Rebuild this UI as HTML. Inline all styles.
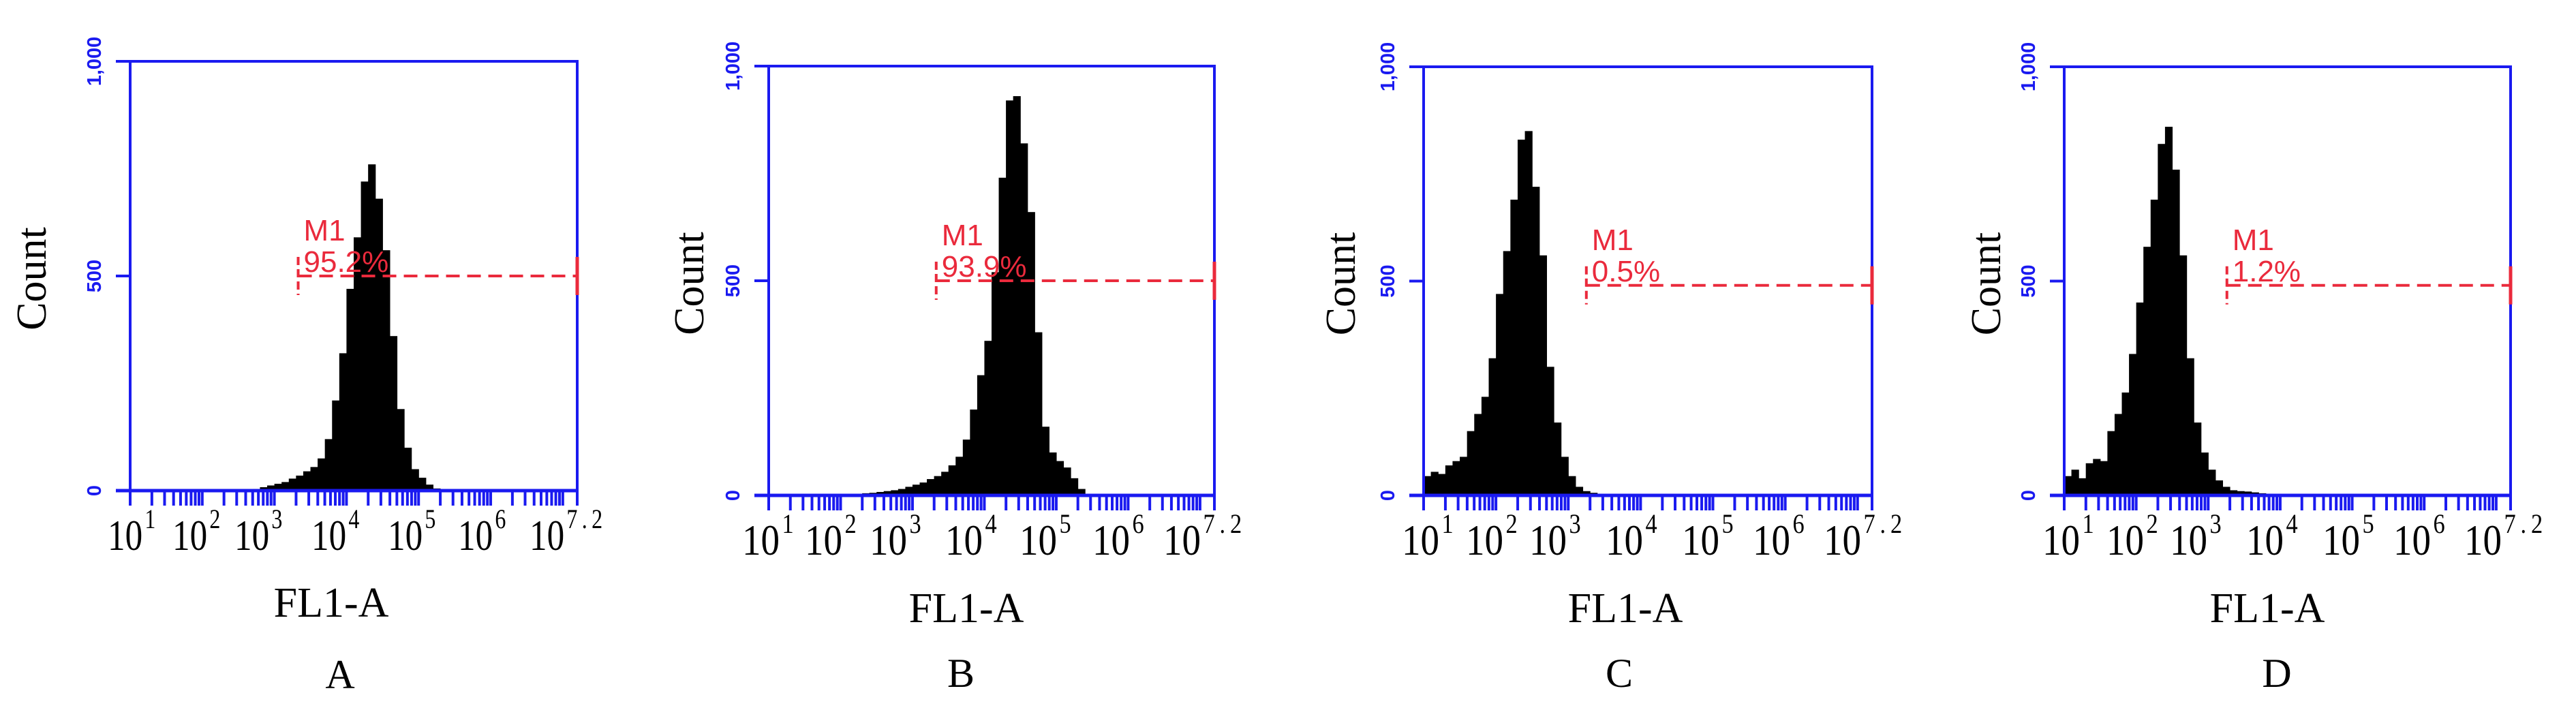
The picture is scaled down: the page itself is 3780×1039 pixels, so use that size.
<!DOCTYPE html>
<html><head><meta charset="utf-8">
<style>
html,body{margin:0;padding:0;background:#fff;}
svg{display:block;}
</style></head>
<body>
<svg id="fig" xmlns="http://www.w3.org/2000/svg" width="3780" height="1039" viewBox="0 0 3780 1039">
<rect x="0" y="0" width="3780" height="1039" fill="#fff"/>
</svg>
<script>
// ---- data ----
const panelIds = ["A","B","C","D"];
const binStartA = 2.7;
const countsA = [4,8,12,16,20,28,35,45,55,75,120,210,320,470,590,720,760,680,560,360,190,100,50,30,14,5];
const binStartB = 2.3;
const countsB = [5,6,8,10,12,15,20,25,30,38,45,55,70,90,130,200,280,360,520,740,920,930,820,660,380,160,100,80,65,40,15,3];
const binStartC = 1.0;
const countsC = [45,55,50,70,80,90,150,190,230,320,470,570,690,830,850,720,560,300,170,90,45,20,10,6,3,2];
const binStartD = 1.0;
const countsD = [45,60,40,75,85,80,150,190,240,330,450,580,690,820,860,760,560,320,170,100,60,35,20,12,10,9,7,5,4,1];
const markerLabels = ["95.2%","93.9%","0.5%","1.2%"];
const markerStart = [3.33,3.33,3.25,3.26];    // gate start (log10)
const markerLevel = [500,500,490,490];        // gate line height (count)
const yTickValues = [0,500,1000];
const yTickLabels = ["0","500","1,000"];
const xTickExps = ["1","2","3","4","5","6","7.2"];
const binWidth = 0.1;
const xMin = 1, xMax = 7.2, yMax = 1000;

// ---- layout ----
const layout = [
 {L:191,R:847,T:90,B:720, countX:47, labX:[158,253,344,457,569,672,777], labY:807, labSX:0.8, flX:486, flY:905, idX:499, idY:1010},
 {L:1128,R:1782,T:97,B:727, countX:1012, labX:[1089,1181,1276,1387,1496,1603,1707], labY:814, labSX:0.86, flX:1418, flY:913, idX:1410, idY:1008},
 {L:2089,R:2747,T:98,B:727, countX:1968, labX:[2057,2151,2244,2356,2468,2572,2676], labY:814, labSX:0.86, flX:2385, flY:913, idX:2376, idY:1008},
 {L:3029,R:3684,T:98,B:727, countX:2915, labX:[2997,3091,3184,3296,3408,3512,3616], labY:814, labSX:0.86, flX:3327, flY:913, idX:3341, idY:1008}
];
const allCounts = [countsA,countsB,countsC,countsD];
const allStarts = [binStartA,binStartB,binStartC,binStartD];

const NS = "http://www.w3.org/2000/svg";
const svg = document.getElementById("fig");
const BLUE = "#1a1af0", RED = "#ea2a3c";
function mk(tag, attrs, parent){
  const e = document.createElementNS(NS, tag);
  for (const k in attrs) e.setAttribute(k, attrs[k]);
  (parent||svg).appendChild(e);
  return e;
}

panelIds.forEach((pid, i) => {
  const P = layout[i];
  const xs = v => P.L + (v - xMin) / (xMax - xMin) * (P.R - P.L);
  const ys = c => P.B - c / yMax * (P.B - P.T);
  const g = mk("g", {});
  
  

  // histogram bars
  const counts = allCounts[i], start = allStarts[i];
  counts.forEach((c, k) => {
    const d0 = start + k * binWidth;
    const x0 = xs(d0), x1 = xs(d0 + binWidth);
    const r = mk("rect", {x:x0, y:ys(c), width:(x1-x0)+0.6, height:P.B-ys(c), fill:"#000"}, g);
    
    
  });

  // frame
  const fr = mk("rect", {x:P.L, y:P.T, width:P.R-P.L, height:P.B-P.T, fill:"none", stroke:BLUE, "stroke-width":4}, g);
  
  
  mk("line", {x1:P.L-21, y1:P.B, x2:P.R, y2:P.B, stroke:BLUE, "stroke-width":5}, g);

  // y ticks
  yTickValues.forEach((v, k) => {
    const y = ys(v);
    mk("line", {x1:P.L-21, y1:y, x2:P.L, y2:y, stroke:BLUE, "stroke-width":4}, g);
    const t = mk("text", {x:P.L-43, y:y, transform:`rotate(-90 ${P.L-43} ${y})`, "text-anchor":"middle",
      "font-family":"Liberation Sans, sans-serif", "font-size":29, "font-weight":"bold", fill:BLUE}, g);
    t.textContent = yTickLabels[k];
    
    
  });

  // x ticks (log)
  for (let d = 1; d <= 7; d++) {
    for (let m = 1; m <= 9; m++) {
      const v = d + Math.log10(m);
      if (v > xMax + 1e-6) continue;
      const x = xs(v);
      mk("line", {x1:x, y1:P.B, x2:x, y2:P.B+22, stroke:BLUE, "stroke-width":4}, g);
    }
  }
  mk("line", {x1:P.R, y1:P.B, x2:P.R, y2:P.B+22, stroke:BLUE, "stroke-width":4}, g);

  // x tick labels
  xTickExps.forEach((e, k) => {
    const x = P.labX[k];
    const t = mk("text", {x:0, y:0, transform:`translate(${x} ${P.labY}) scale(${P.labSX} 1)`,
      "font-family":"Liberation Serif, serif", "font-size":64, fill:"#000"}, g);
    
    
    const a = mk("tspan", {}, t); a.textContent = "10";
    const b = mk("tspan", {dy:-32, dx:4, "font-size":40, "letter-spacing": e.length>1 ? 8 : 0}, t); b.textContent = e;
  });

  // y title
  const cy = (P.T + P.B) / 2 + 4;
  const ct = mk("text", {x:P.countX, y:cy, transform:`rotate(-90 ${P.countX} ${cy})`, "text-anchor":"middle",
    "dominant-baseline":"central", "font-family":"Liberation Serif, serif", "font-size":62, fill:"#000"}, g);
  ct.textContent = "Count";
  
  

  // x title
  const ft = mk("text", {x:P.flX, y:P.flY, "text-anchor":"middle", "font-family":"Liberation Serif, serif", "font-size":62, fill:"#000"}, g);
  ft.textContent = "FL1-A";
  
  

  // panel label
  const pl = mk("text", {x:P.idX, y:P.idY, "text-anchor":"middle", "font-family":"Liberation Serif, serif", "font-size":60, fill:"#000"}, g);
  pl.textContent = pid;
  
  

  // M1 gate marker
  const gx = xs(markerStart[i]), gy = ys(markerLevel[i]);
  const mg = mk("g", {}, g);
  
  
  mk("line", {x1:gx, y1:gy, x2:P.R, y2:gy, stroke:RED, "stroke-width":4, "stroke-dasharray":"20 11"}, mg);
  mk("line", {x1:gx, y1:gy-28, x2:gx, y2:gy+28, stroke:RED, "stroke-width":4, "stroke-dasharray":"12 6"}, mg);
  mk("line", {x1:P.R, y1:gy-28, x2:P.R, y2:gy+28, stroke:RED, "stroke-width":5}, mg);
  const m1 = mk("text", {x:gx+8, y:gy-52, "font-family":"Liberation Sans, sans-serif", "font-size":44, fill:RED}, mg);
  m1.textContent = "M1";
  
  
  const pc = mk("text", {x:gx+8, y:gy-6, "font-family":"Liberation Sans, sans-serif", "font-size":44, fill:RED}, mg);
  pc.textContent = markerLabels[i];
  
  
});
</script>
</body></html>
